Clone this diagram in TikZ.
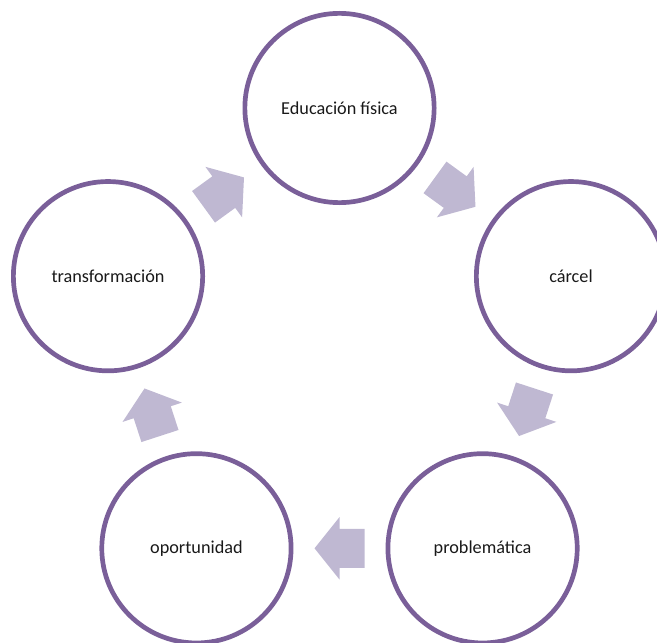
\documentclass[tikz,border=0pt]{standalone}
\usepackage{fontspec}
\setmainfont{Carlito}
\usetikzlibrary{calc}
\definecolor{ringcol}{RGB}{122,95,153}
\definecolor{arrowcol}{RGB}{191,184,210}
\begin{document}
\begin{tikzpicture}[x=1bp,y=1bp,
  ring/.style={circle,draw=ringcol,line width=4.7bp,minimum size=189.3bp,inner sep=0pt,
    font=\fontsize{18.3}{22}\selectfont,text=black!90},
  pics/cyclearrow/.style={code={\fill[arrowcol] (-25,-19.5) -- (0,-19.5) -- (0,-31.2) -- (25,0)
      -- (0,31.2) -- (0,19.5) -- (-25,19.5) -- cycle;}}]
\useasboundingbox (0,0) rectangle (657,-643);
\coordinate (C) at (339.5,-351.4);
\node[ring] (edu) at ($(C)+(90:243.4)$) {Educación física};
\node[ring] (car) at ($(C)+(18:243.4)$) {cárcel};
\node[ring] (pro) at ($(C)+(-54:243.4)$) {problemática};
\node[ring] (opo) at ($(C)+(-126:243.4)$) {oportunidad};
\node[ring] (tra) at ($(C)+(162:243.4)$) {transformación};
\pic[rotate=-36] (a1) at ($(C)+(54:196.9)$) {cyclearrow};
\pic[rotate=-108] (a2) at ($(C)+(-18:196.9)$) {cyclearrow};
\pic[rotate=180] (a3) at ($(C)+(-90:196.9)$) {cyclearrow};
\pic[rotate=108] (a4) at ($(C)+(-162:196.9)$) {cyclearrow};
\pic[rotate=36] (a5) at ($(C)+(126:196.9)$) {cyclearrow};
\end{tikzpicture}
\end{document}
